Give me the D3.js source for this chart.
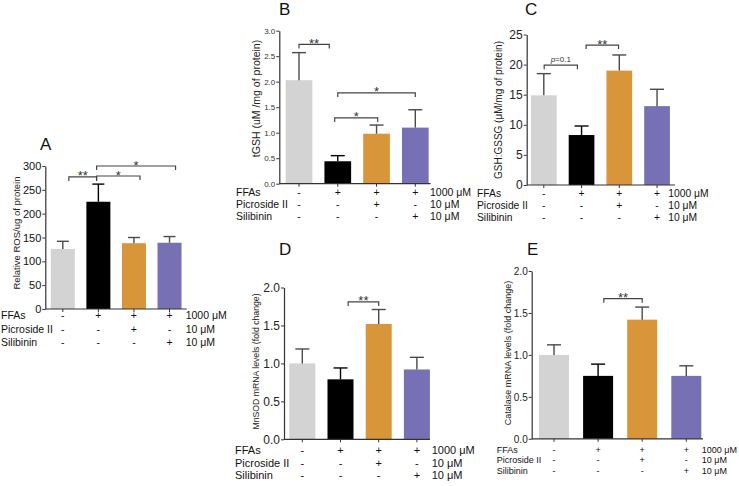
<!DOCTYPE html>
<html><head><meta charset="utf-8">
<script src="https://cdn.jsdelivr.net/npm/d3@7"></script>
<style>body{margin:0;background:#fff}svg{display:block;font-family:Arial,"Liberation Sans",sans-serif}</style>
</head><body><svg id="c" width="739" height="486"></svg>
<script>
// ---------- data ----------
const groups = ["Control", "FFAs", "FFAs + Picroside II", "FFAs + Silibinin"];

const rosMean = [126, 225, 138, 139];
const rosErr  = [16, 37, 12, 13];
const rosTicks = [0, 50, 100, 150, 200, 250, 300];

const tgshMean = [2.03, 0.44, 0.98, 1.10];
const tgshErr  = [0.54, 0.11, 0.17, 0.35];
const tgshTicks = [0, 0.5, 1.0, 1.5, 2.0, 2.5, 3.0];

const ratioMean = [14.9, 8.3, 19.0, 13.1];
const ratioErr  = [3.6, 1.5, 2.6, 2.8];
const ratioTicks = [0, 5, 10, 15, 20, 25];

const mnsodMean = [1.0, 0.79, 1.52, 0.92];
const mnsodErr  = [0.19, 0.15, 0.19, 0.16];
const mnsodTicks = [0, 0.5, 1.0, 1.5, 2.0];

const catMean = [1.0, 0.75, 1.42, 0.75];
const catErr  = [0.12, 0.14, 0.15, 0.12];
const catTicks = [0, 0.5, 1.0, 1.5, 2.0];

// significance brackets: from/to in (fractional) group index, y in data units
const rosSig   = [{from: 0.17, to: 0.95, y: 277, label: "**"}, {from: 0.95, to: 2.17, y: 279, label: "*"}, {from: 0.95, to: 3.17, y: 300, label: "*"}];
const tgshSig  = [{from: 0, to: 0.78, y: 2.73, label: "**"}, {from: 0.92, to: 2.03, y: 1.29, label: "*"}, {from: 1.0, to: 3.0, y: 1.78, label: "*"}];
const ratioSig = [{from: 0.01, to: 0.89, y: 19.9, label: "p=0.1"}, {from: 1.12, to: 1.98, y: 23.25, label: "**"}];
const mnsodSig = [{from: 1.2, to: 2.0, y: 1.81, label: "**"}];
const catSig   = [{from: 1.13, to: 2.0, y: 1.67, label: "**"}];

const rowLabels = ["FFAs", "Picroside II", "Silibinin"];
const rowSigns = [["-", "+", "+", "+"], ["-", "-", "+", "-"], ["-", "-", "-", "+"]];
const rowUnits = ["1000 μM", "10 μM", "10 μM"];

// ---------- styles ----------
const barColors = ["#d3d3d3", "#000000", "#d8953a", "#7870b5"];
const errColors = ["#4a4a4a", "#000000", "#4a4a4a", "#4a4a4a"];

const svg = d3.select("#c");

function panel(o) {
  const g = svg.append("g");
  const pi = 1 - o.bw / o.step;
  const x = d3.scaleBand().domain(groups)
    .range([o.c1 - o.step / 2, o.c1 + 3.5 * o.step])
    .paddingInner(pi).paddingOuter(pi / 2);
  const cx = i => x(groups[0]) + x.bandwidth() / 2 + i * x.step();
  const y = d3.scaleLinear().domain([0, o.max]).range([o.y0, o.y1]);

  // bars
  g.selectAll("rect.bar").data(o.mean).join("rect")
    .attr("x", (d, i) => x(groups[i])).attr("width", x.bandwidth())
    .attr("y", d => y(d)).attr("height", d => y(0) - y(d))
    .attr("fill", (d, i) => barColors[i]);

  // error bars (upper only)
  o.mean.forEach((m, i) => {
    const c = x(groups[i]) + x.bandwidth() / 2;
    const top = y(m + o.err[i]);
    g.append("line").attr("x1", c).attr("x2", c).attr("y1", y(m)).attr("y2", top)
      .attr("stroke", errColors[i]).attr("stroke-width", 1.4);
    g.append("line").attr("x1", c - o.cap).attr("x2", c + o.cap).attr("y1", top).attr("y2", top)
      .attr("stroke", errColors[i]).attr("stroke-width", 1.4);
  });

  // y axis
  const ya = g.append("g").attr("transform", `translate(${o.ax},0)`)
    .call(d3.axisLeft(y).tickValues(o.ticks).tickSize(3).tickSizeOuter(0).tickPadding(1).tickFormat(d3.format(o.fmt)));
  ya.select(".domain").attr("stroke", "#333").attr("stroke-width", 1.2);
  ya.selectAll(".tick line").attr("stroke", "#333");
  ya.selectAll(".tick text").attr("font-size", o.tickFont).attr("fill", o.tickColor).attr("font-family", "Arial, Liberation Sans, sans-serif");

  // x axis
  const xa = g.append("g").attr("transform", `translate(0,${o.y0})`)
    .call(d3.axisBottom(x).tickSize(3).tickSizeOuter(0).tickFormat(""));
  xa.select(".domain").remove();
  xa.selectAll(".tick line").attr("stroke", "#333");
  g.append("line").attr("x1", o.ax).attr("x2", o.xEnd).attr("y1", o.y0).attr("y2", o.y0)
    .attr("stroke", "#333").attr("stroke-width", 1.2);

  // y title
  g.append("text").attr("transform", `translate(${o.titleX},${o.titleY}) rotate(-90)`)
    .attr("text-anchor", "middle").attr("dy", "0.35em")
    .attr("font-size", o.titleFont).attr("fill", "#222").text(o.title);

  // panel letter
  g.append("text").attr("x", o.letterX).attr("y", o.letterY).attr("font-size", 17)
    .attr("fill", "#111").text(o.letter);

  // significance brackets
  o.sig.forEach(s => {
    const x1 = cx(s.from), x2 = cx(s.to), yy = y(s.y);
    g.append("path").attr("d", `M${x1},${yy + 4}V${yy}H${x2}V${yy + 4}`)
      .attr("fill", "none").attr("stroke", "#444").attr("stroke-width", 1.2);
    if (s.label.startsWith("p")) {
      const t = g.append("text").attr("x", (x1 + x2) / 2).attr("y", yy - 3)
        .attr("text-anchor", "middle").attr("font-size", 8).attr("fill", "#333");
      t.append("tspan").attr("font-style", "italic").text("p");
      t.append("tspan").text(s.label.slice(1));
    } else {
      g.append("text").attr("x", (x1 + x2) / 2).attr("y", yy + 3.5)
        .attr("text-anchor", "middle").attr("font-size", 13).attr("fill", "#333").text(s.label);
    }
  });

  // treatment table
  rowLabels.forEach((lab, r) => {
    g.append("text").attr("x", o.labX).attr("y", o.rowY[r]).attr("font-size", o.tabFont)
      .attr("fill", "#111").text(lab);
    rowSigns[r].forEach((sg, i) => {
      g.append("text").attr("x", x(groups[i]) + x.bandwidth() / 2).attr("y", o.rowY[r])
        .attr("text-anchor", "middle").attr("font-size", o.tabFont).attr("fill", "#111").text(sg);
    });
    g.append("text").attr("x", o.unitX).attr("y", o.rowY[r]).attr("font-size", o.tabFont)
      .attr("fill", "#111").text(rowUnits[r]);
  });
}

panel({mean: rosMean, err: rosErr, ticks: rosTicks, sig: rosSig, max: 300, fmt: "d",
  ax: 45.3, xEnd: 186.7, c1: 62.8, step: 35.57, bw: 24, y0: 309, y1: 166, cap: 6,
  tickFont: 11, tickColor: "#111", title: "Relative ROS/ug of protein", titleX: 17, titleY: 233, titleFont: 9.5,
  letter: "A", letterX: 40, letterY: 150, labX: 1, rowY: [319.4, 332.7, 346], unitX: 185.7, tabFont: 10.5});

panel({mean: tgshMean, err: tgshErr, ticks: tgshTicks, sig: tgshSig, max: 3, fmt: ".1f",
  ax: 279.3, xEnd: 430.5, c1: 299, step: 38.77, bw: 26.7, y0: 183.7, y1: 30.7, cap: 7,
  tickFont: 8, tickColor: "#333", title: "tGSH (uM /mg of protein)", titleX: 256, titleY: 98.5, titleFont: 10.5,
  letter: "B", letterX: 279, letterY: 15, labX: 236, rowY: [196.4, 207.9, 219.7], unitX: 430, tabFont: 10.5});

panel({mean: ratioMean, err: ratioErr, ticks: ratioTicks, sig: ratioSig, max: 25, fmt: "d",
  ax: 526.7, xEnd: 675, c1: 543.8, step: 37.75, bw: 25.7, y0: 185, y1: 34.5, cap: 7,
  tickFont: 12, tickColor: "#222", title: "GSH:GSSG (μM/mg of protein)", titleX: 498.3, titleY: 110, titleFont: 10,
  letter: "C", letterX: 525, letterY: 15, labX: 477, rowY: [197, 208.7, 221.4], unitX: 668.3, tabFont: 10.3});

panel({mean: mnsodMean, err: mnsodErr, ticks: mnsodTicks, sig: mnsodSig, max: 2, fmt: ".1f",
  ax: 284, xEnd: 430, c1: 302.3, step: 38.2, bw: 26, y0: 439.3, y1: 287.5, cap: 7,
  tickFont: 12, tickColor: "#222", title: "MnSOD mRNA levels (fold change)", titleX: 256, titleY: 361.5, titleFont: 8.7,
  letter: "D", letterX: 279, letterY: 255, labX: 235, rowY: [453.8, 467, 478.8], unitX: 431.7, tabFont: 11});

panel({mean: catMean, err: catErr, ticks: catTicks, sig: catSig, max: 2, fmt: ".1f",
  ax: 531.7, xEnd: 703, c1: 554, step: 44.1, bw: 30, y0: 438.8, y1: 271, cap: 7,
  tickFont: 10, tickColor: "#222", title: "Catalase mRNA levels (fold change)", titleX: 508.3, titleY: 353, titleFont: 9,
  letter: "E", letterX: 527, letterY: 255, labX: 496.7, rowY: [452.5, 463.2, 473.9], unitX: 701.7, tabFont: 9});
</script>
</body></html>
